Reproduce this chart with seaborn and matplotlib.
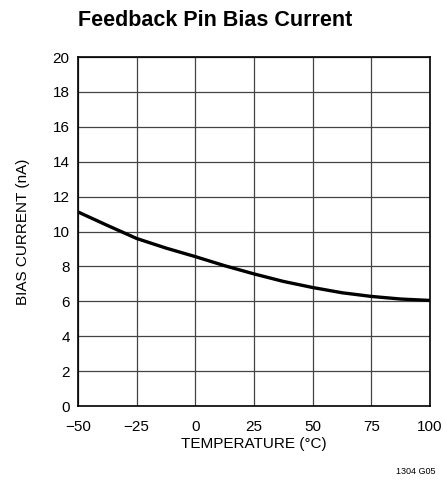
import matplotlib
matplotlib.use("Agg")
import matplotlib.pyplot as plt
from matplotlib import font_manager
import seaborn as sns
import pandas as pd

temperature = [-50, -37.5, -25, -12.5, 0, 12.5, 25, 37.5, 50, 62.5, 75, 87.5, 100]
bias_current = [11.12, 10.35, 9.6, 9.05, 8.56, 8.04, 7.57, 7.14, 6.79, 6.49, 6.28, 6.13, 6.05]

x_ticks = [-50, -25, 0, 25, 50, 75, 100]
x_labels = ["\u221250", "\u221225", "0", "25", "50", "75", "100"]
y_ticks = list(range(0, 21, 2))

sns.set_theme(style="white")
names = {f.name for f in font_manager.fontManager.ttflist}
narrow = "Liberation Sans Narrow" if "Liberation Sans Narrow" in names else "Liberation Sans"
plt.rcParams["font.family"] = [narrow, "DejaVu Sans"]
plt.rcParams["text.color"] = "black"
plt.rcParams["axes.labelcolor"] = "black"

df = pd.DataFrame({"temp": temperature, "current": bias_current})

fig = plt.figure(figsize=(4.47, 4.86), dpi=100)
ax = fig.add_axes([0.1745, 0.1646, 0.7875, 0.7181])
sns.lineplot(data=df, x="temp", y="current", ax=ax, color="black", linewidth=2.4)

ax.set_xlim(-50, 100)
ax.set_ylim(0, 20)
ax.set_xticks(x_ticks)
ax.set_xticklabels(x_labels)
ax.set_yticks(y_ticks)
ax.grid(True, color="#444444", linewidth=0.9)
for s in ax.spines.values():
    s.set_visible(True)
    s.set_color("black")
    s.set_linewidth(1.2)
ax.tick_params(labelsize=11, colors="black", length=0)
ax.tick_params(axis="x", pad=10)
ax.tick_params(axis="y", pad=6)
ax.set_xlabel("TEMPERATURE (\u00b0C)", fontsize=11, labelpad=2)
ax.set_ylabel("BIAS CURRENT (nA)", fontsize=11, labelpad=16)

fig.text(0.1745, 0.958, "Feedback Pin Bias Current", fontsize=15.5, fontweight="bold",
         va="center", ha="left")
fig.text(0.93, 0.03, "1304 G05", fontsize=6.5, ha="center", va="center")

fig.savefig("out.png", dpi=100)
